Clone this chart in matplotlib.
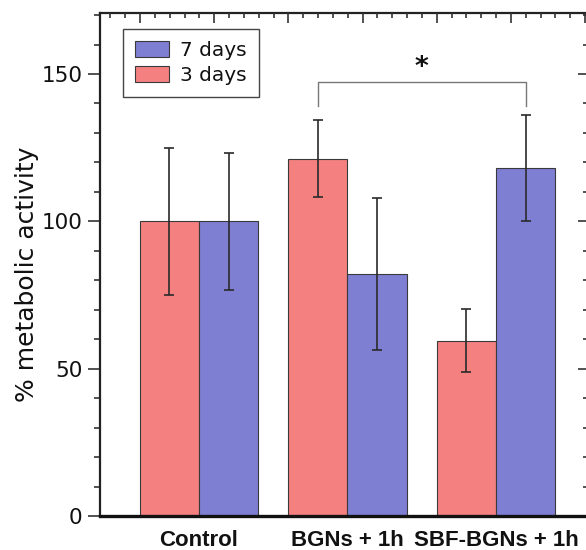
import numpy as np
import matplotlib
matplotlib.use("Agg")
import matplotlib.pyplot as plt
from matplotlib.ticker import MultipleLocator

# data
groups = ["Control", "BGNs + 1h", "SBF-BGNs + 1h"]
days3 = [100.0, 121.2, 59.5]
days3_err = [25.0, 13.1, 10.6]
days7 = [100.0, 82.0, 118.0]
days7_err = [23.3, 25.8, 18.0]
sig_pair = (1, 2)      # BGNs 3 days vs SBF-BGNs 7 days
sig_y = 147.3
sig_drop = 139.0

red = "#f48080"
blue = "#7e7ed2"
width = 0.4

fig = plt.figure(figsize=(5.86, 5.5), dpi=100)
ax = fig.add_axes([100 / 586, 34 / 550, 488 / 586, 503 / 550])

x = np.arange(len(groups))
bars3 = ax.bar(x - width / 2, days3, width, color=red, edgecolor="#3a3a3a",
               linewidth=0.8, label="3 days", zorder=2)
bars7 = ax.bar(x + width / 2, days7, width, color=blue, edgecolor="#3a3a3a",
               linewidth=0.8, label="7 days", zorder=2)
ax.errorbar(x - width / 2, days3, yerr=days3_err, fmt="none", ecolor="#2a2a2a",
            elinewidth=1.2, capsize=3.3, capthick=1.2, zorder=3)
ax.errorbar(x + width / 2, days7, yerr=days7_err, fmt="none", ecolor="#2a2a2a",
            elinewidth=1.2, capsize=3.3, capthick=1.2, zorder=3)

# significance bracket
xl = sig_pair[0] - width / 2
xr = sig_pair[1] + width / 2
ax.plot([xl, xl, xr, xr], [sig_drop, sig_y, sig_y, sig_drop], color="#777777",
        linewidth=1.0, zorder=3)
ax.text((xl + xr) / 2, sig_y + 0.3, "*", ha="center", va="bottom", fontsize=19,
        fontweight="bold", color="#111111")

ax.set_xlim(-0.667, 2.62)
ax.set_ylim(0, 170.7)
ax.yaxis.set_major_locator(MultipleLocator(50))
ax.yaxis.set_minor_locator(MultipleLocator(10))
ax.set_xticks(x)
ax.set_xticklabels(groups, fontsize=16, fontweight="bold",
                   family="Liberation Sans", color="#111111")
ax.tick_params(axis="x", length=0, pad=10)
ax.tick_params(axis="y", which="major", direction="out", length=8.6, width=1.2,
               color="#333333", labelsize=15.5, pad=4, labelcolor="#111111")
ax.tick_params(axis="y", which="minor", direction="out", length=4, width=1.2,
               color="#333333")
ax.set_ylabel("% metabolic activity", fontsize=18, color="#111111")
ax.yaxis.set_label_coords(-0.125, 0.48)

for side in ["left", "top", "right"]:
    ax.spines[side].set_linewidth(1.6)
    ax.spines[side].set_color("#222222")
ax.spines["bottom"].set_linewidth(2.4)
ax.spines["bottom"].set_color("#111111")

# right-hand ticks point inward
sec = ax.secondary_yaxis("right")
sec.yaxis.set_major_locator(MultipleLocator(50))
sec.yaxis.set_minor_locator(MultipleLocator(10))
sec.tick_params(which="major", direction="in", length=7, width=1.2,
                color="#333333", labelright=False)
sec.tick_params(which="minor", direction="in", length=3.6, width=1.2,
                color="#333333")

# top axis with its own tick scale, no labels
top = ax.twiny()
top.set_xlim(-0.54, 6.04)
top.xaxis.set_major_locator(MultipleLocator(1))
top.xaxis.set_minor_locator(MultipleLocator(0.2))
top.tick_params(which="major", direction="in", length=7, width=1.2,
                color="#333333", labeltop=False)
top.tick_params(which="minor", direction="in", length=3.6, width=1.2,
                color="#333333")
for s in top.spines.values():
    s.set_visible(False)

leg = ax.legend(handles=[bars7, bars3], labels=["7 days", "3 days"],
                loc="upper left", bbox_to_anchor=(0.047, 0.968),
                borderaxespad=0, fontsize=14.5, handlelength=1.7,
                handleheight=0.85, handletextpad=0.55, labelspacing=0.3,
                borderpad=0.6, fancybox=False, framealpha=1)
leg.get_frame().set_edgecolor("#444444")
leg.get_frame().set_linewidth(1.0)
for t in leg.get_texts():
    t.set_color("#111111")

fig.savefig("out.png", dpi=100)
